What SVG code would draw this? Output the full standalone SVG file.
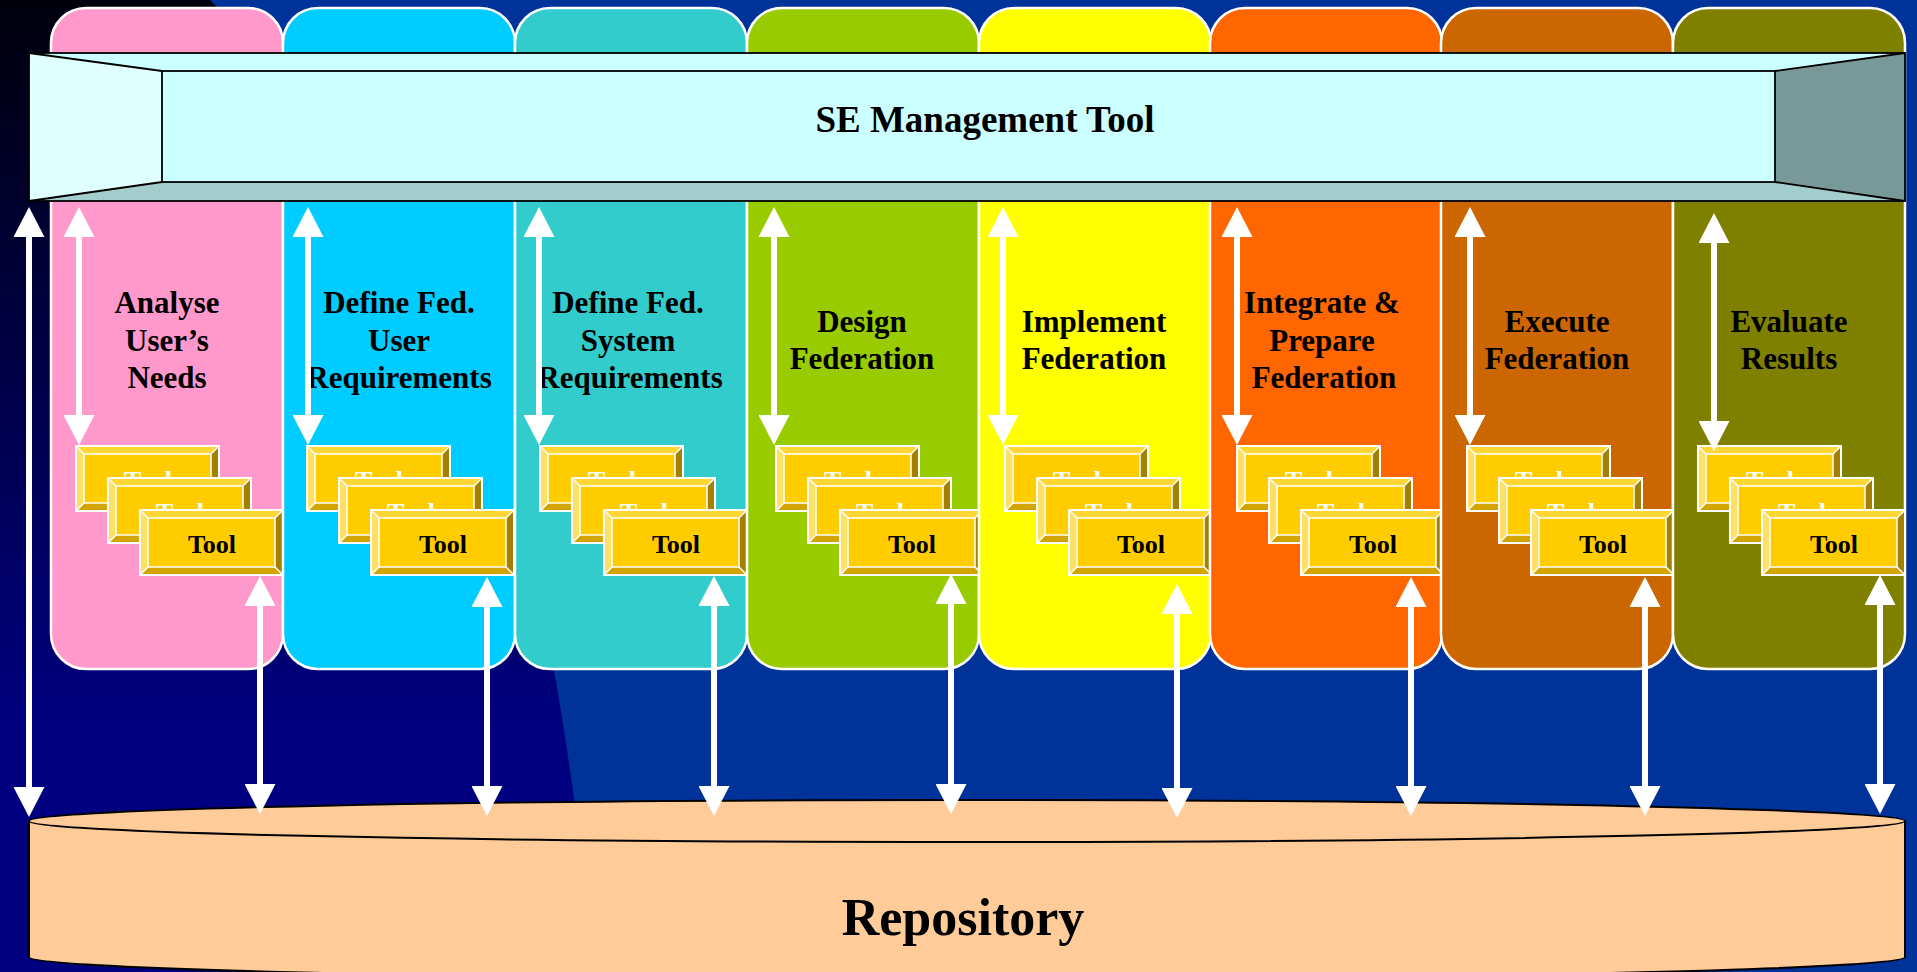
<svg xmlns="http://www.w3.org/2000/svg" width="1917" height="972" viewBox="0 0 1917 972">
<style>
.panel{stroke:#FFFFFF;stroke-width:2.5}
.lbl{font-family:"Liberation Serif","Times New Roman",serif;font-weight:bold;font-size:31px;fill:#000;text-anchor:middle}
.tool{font-family:"Liberation Serif","Times New Roman",serif;font-weight:bold;font-size:26px;text-anchor:middle}
.tb{fill:#000}
.tw{fill:#FFFFFF}
.arr{stroke:#FFFFFF;stroke-width:6;fill:none;marker-start:url(#ah);marker-end:url(#ah)}
.edge{stroke:#000;stroke-width:1.8;fill:none}
</style>
<defs>
<linearGradient id="dark" x1="0" y1="0" x2="0" y2="972" gradientUnits="userSpaceOnUse">
<stop offset="0" stop-color="#00000C"/>
<stop offset="0.45" stop-color="#000052"/>
<stop offset="0.75" stop-color="#000080"/>
<stop offset="1" stop-color="#000080"/>
</linearGradient>
<marker id="ah" viewBox="0 0 30 31" markerWidth="30" markerHeight="31" refX="0" refY="15.5" orient="auto-start-reverse" markerUnits="userSpaceOnUse">
<path d="M0,0 L30,15.5 L0,31 Z" fill="#FFFFFF"/>
</marker>
<g id="toolbox">
<rect x="0" y="0" width="143" height="65" fill="#FFCC00"/>
<polygon points="0,0 143,0 135,8 8,8" fill="#FFD633"/>
<polygon points="0,0 8,8 8,57 0,65" fill="#FFE066"/>
<polygon points="0,65 8,57 135,57 143,65" fill="#D4A500"/>
<polygon points="143,0 143,65 135,57 135,8" fill="#A38000"/>
<rect x="8" y="8" width="127" height="49" fill="#FFCC00" stroke="#FFFFFF" stroke-width="1.5"/>
<path d="M0,0 L8,8 M143,0 L135,8 M0,65 L8,57 M143,65 L135,57" stroke="#FFFFFF" stroke-width="1.5"/>
<rect x="0" y="0" width="143" height="65" fill="none" stroke="#FFFFFF" stroke-width="2"/>
</g>
</defs>

<g id="background">
<rect x="0" y="0" width="1917" height="972" fill="#003399"/>
<path d="M0,0 L210,0 C510,300 550,572 595,972 L0,972 Z" fill="url(#dark)"/>
</g>

<g id="panel-analyse">
<rect class="panel" x="51" y="8" width="232" height="661" rx="35" fill="#FF99CC"/>
<text class="lbl" x="167" y="313">Analyse</text>
<text class="lbl" x="167" y="351">User’s</text>
<text class="lbl" x="167" y="388">Needs</text>
<use href="#toolbox" x="76" y="446"/><text class="tool tw" x="148" y="489">Tool</text>
<use href="#toolbox" x="108" y="478"/><text class="tool tw" x="180" y="521">Tool</text>
<use href="#toolbox" x="140" y="510"/><text class="tool tb" x="212" y="553">Tool</text>
</g>

<g id="panel-user-req">
<rect class="panel" x="283" y="8" width="232" height="661" rx="35" fill="#00CCFF"/>
<text class="lbl" x="399" y="313">Define Fed.</text>
<text class="lbl" x="399" y="351">User</text>
<text class="lbl" x="399" y="388">Requirements</text>
<use href="#toolbox" x="307" y="446"/><text class="tool tw" x="379" y="489">Tool</text>
<use href="#toolbox" x="339" y="478"/><text class="tool tw" x="411" y="521">Tool</text>
<use href="#toolbox" x="371" y="510"/><text class="tool tb" x="443" y="553">Tool</text>
</g>

<g id="panel-system-req">
<rect class="panel" x="515" y="8" width="232" height="661" rx="35" fill="#33CCCC"/>
<text class="lbl" x="628" y="313">Define Fed.</text>
<text class="lbl" x="628" y="351">System</text>
<text class="lbl" x="630" y="388">Requirements</text>
<use href="#toolbox" x="540" y="446"/><text class="tool tw" x="612" y="489">Tool</text>
<use href="#toolbox" x="572" y="478"/><text class="tool tw" x="644" y="521">Tool</text>
<use href="#toolbox" x="604" y="510"/><text class="tool tb" x="676" y="553">Tool</text>
</g>

<g id="panel-design">
<rect class="panel" x="747" y="8" width="232" height="661" rx="35" fill="#99CC00"/>
<text class="lbl" x="862" y="332">Design</text>
<text class="lbl" x="862" y="369">Federation</text>
<use href="#toolbox" x="776" y="446"/><text class="tool tw" x="848" y="489">Tool</text>
<use href="#toolbox" x="808" y="478"/><text class="tool tw" x="880" y="521">Tool</text>
<use href="#toolbox" x="840" y="510"/><text class="tool tb" x="912" y="553">Tool</text>
</g>

<g id="panel-implement">
<rect class="panel" x="979" y="8" width="232" height="661" rx="35" fill="#FFFF00"/>
<text class="lbl" x="1094" y="332">Implement</text>
<text class="lbl" x="1094" y="369">Federation</text>
<use href="#toolbox" x="1005" y="446"/><text class="tool tw" x="1077" y="489">Tool</text>
<use href="#toolbox" x="1037" y="478"/><text class="tool tw" x="1109" y="521">Tool</text>
<use href="#toolbox" x="1069" y="510"/><text class="tool tb" x="1141" y="553">Tool</text>
</g>

<g id="panel-integrate">
<rect class="panel" x="1210" y="8" width="232" height="661" rx="35" fill="#FF6600"/>
<text class="lbl" x="1322" y="313">Integrate &amp;</text>
<text class="lbl" x="1322" y="351">Prepare</text>
<text class="lbl" x="1324" y="388">Federation</text>
<use href="#toolbox" x="1237" y="446"/><text class="tool tw" x="1309" y="489">Tool</text>
<use href="#toolbox" x="1269" y="478"/><text class="tool tw" x="1341" y="521">Tool</text>
<use href="#toolbox" x="1301" y="510"/><text class="tool tb" x="1373" y="553">Tool</text>
</g>

<g id="panel-execute">
<rect class="panel" x="1441" y="8" width="232" height="661" rx="35" fill="#CC6600"/>
<text class="lbl" x="1557" y="332">Execute</text>
<text class="lbl" x="1557" y="369">Federation</text>
<use href="#toolbox" x="1467" y="446"/><text class="tool tw" x="1539" y="489">Tool</text>
<use href="#toolbox" x="1499" y="478"/><text class="tool tw" x="1571" y="521">Tool</text>
<use href="#toolbox" x="1531" y="510"/><text class="tool tb" x="1603" y="553">Tool</text>
</g>

<g id="panel-evaluate">
<rect class="panel" x="1673" y="8" width="232" height="661" rx="35" fill="#808000"/>
<text class="lbl" x="1789" y="332">Evaluate</text>
<text class="lbl" x="1789" y="369">Results</text>
<use href="#toolbox" x="1698" y="446"/><text class="tool tw" x="1770" y="489">Tool</text>
<use href="#toolbox" x="1730" y="478"/><text class="tool tw" x="1802" y="521">Tool</text>
<use href="#toolbox" x="1762" y="510"/><text class="tool tb" x="1834" y="553">Tool</text>
</g>

<g id="se-management-tool">
<polygon points="29,53 1905,53 1775,71 162,71" fill="#CCFFFF"/>
<polygon points="29,53 162,71 162,182 29,201" fill="#E0FFFF"/>
<polygon points="29,201 162,182 1775,182 1905,201" fill="#A3CCCC"/>
<polygon points="1775,71 1905,53 1905,201 1775,182" fill="#799999"/>
<rect x="162" y="71" width="1613" height="111" fill="#CCFFFF"/>
<rect class="edge" x="29" y="53" width="1876" height="148"/>
<rect class="edge" x="162" y="71" width="1613" height="111"/>
<path class="edge" d="M29,53 L162,71 M1905,53 L1775,71 M29,201 L162,182 M1905,201 L1775,182"/>
<text x="985" y="132" font-family="&quot;Liberation Serif&quot;,&quot;Times New Roman&quot;,serif" font-weight="bold" font-size="37" text-anchor="middle" fill="#000">SE Management Tool</text>
</g>

<g id="repository">
<path d="M29,821 A938,21 0 0 1 1905,821 L1905,957 A938,22 0 0 1 29,957 Z" fill="#FFCC99" stroke="#000" stroke-width="2"/>
<path d="M29,821 A938,21 0 0 0 1905,821" fill="none" stroke="#000" stroke-width="2"/>
<text x="963" y="935" font-family="&quot;Liberation Serif&quot;,&quot;Times New Roman&quot;,serif" font-weight="bold" font-size="52" text-anchor="middle" fill="#000">Repository</text>
</g>

<g id="connectors">
<line class="arr" x1="29" y1="237" x2="29" y2="787"/>
<line class="arr" x1="79" y1="237" x2="79" y2="415"/>
<line class="arr" x1="308" y1="237" x2="308" y2="415"/>
<line class="arr" x1="539" y1="237" x2="539" y2="415"/>
<line class="arr" x1="774" y1="237" x2="774" y2="415"/>
<line class="arr" x1="1003" y1="237" x2="1003" y2="415"/>
<line class="arr" x1="1237" y1="237" x2="1237" y2="415"/>
<line class="arr" x1="1470" y1="237" x2="1470" y2="415"/>
<line class="arr" x1="1714" y1="243" x2="1714" y2="421"/>
<line class="arr" x1="260" y1="606" x2="260" y2="784"/>
<line class="arr" x1="487" y1="607" x2="487" y2="786"/>
<line class="arr" x1="714" y1="606" x2="714" y2="786"/>
<line class="arr" x1="951" y1="604" x2="951" y2="784"/>
<line class="arr" x1="1177" y1="614" x2="1177" y2="788"/>
<line class="arr" x1="1411" y1="607" x2="1411" y2="786"/>
<line class="arr" x1="1645" y1="607" x2="1645" y2="786"/>
<line class="arr" x1="1880" y1="605" x2="1880" y2="784"/>
</g>
</svg>
